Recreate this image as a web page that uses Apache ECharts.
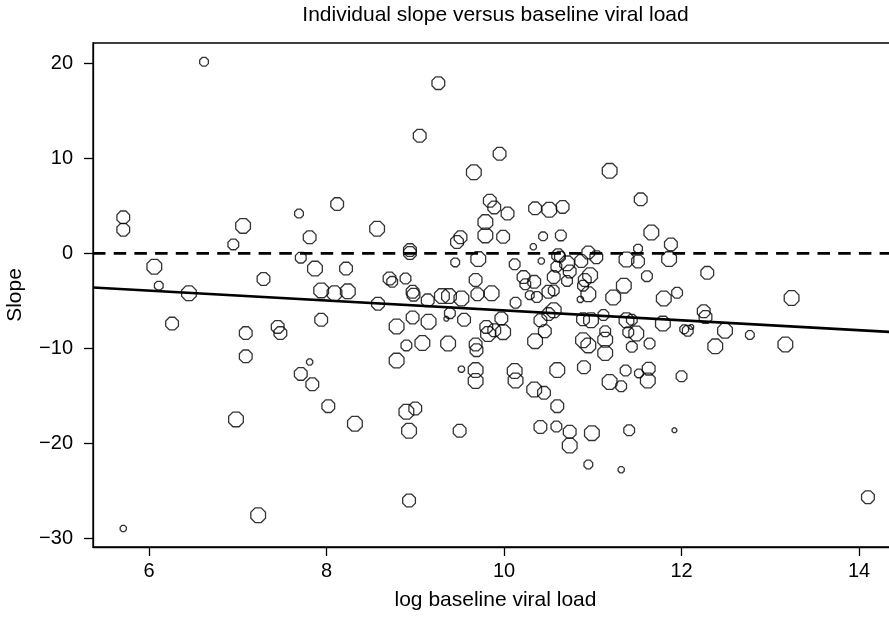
<!DOCTYPE html>
<html><head><meta charset="utf-8">
<script src="https://cdn.jsdelivr.net/npm/echarts@6/dist/echarts.min.js"></script>
<style>html,body{margin:0;padding:0;background:#fff}#c{width:889px;height:617px}</style>
</head><body><div id="c"></div>
<script>
// ---- data ----
const logViralLoad = [
 5.71,5.71,5.71,6.06,6.11,6.26,6.45,6.62,6.95,6.98,7.06,7.09,7.09,7.23,7.29,7.45,7.48,7.69,7.71,7.71,
 7.81,7.81,7.84,7.87,7.94,7.94,8.02,8.09,8.12,8.22,8.24,8.32,8.57,8.58,8.71,8.74,8.79,8.79,8.89,8.90,
 8.90,8.93,8.93,8.94,8.94,8.97,8.98,8.97,9.00,9.05,9.08,9.14,9.15,9.26,9.30,9.35,9.37,9.38,9.39,9.45,
 9.47,9.51,9.50,9.52,9.52,9.55,9.66,9.68,9.68,9.68,9.68,9.69,9.70,9.71,9.79,9.79,9.80,9.82,9.84,9.86,
 9.89,9.89,9.95,9.97,9.99,9.99,10.04,10.12,10.13,10.12,10.13,10.22,10.24,10.29,10.33,10.34,10.34,10.35,10.35,10.37,
 10.41,10.41,10.42,10.44,10.45,10.46,10.50,10.50,10.51,10.56,10.56,10.56,10.59,10.59,10.60,10.60,10.61,10.63,10.64,10.66,
 10.71,10.71,10.74,10.74,10.86,10.87,10.89,10.89,10.89,10.90,10.91,10.95,10.95,10.95,10.95,10.97,10.98,10.99,11.04,11.12,
 11.14,11.14,11.14,11.19,11.19,11.23,11.32,11.32,11.35,11.37,11.38,11.38,11.40,11.41,11.44,11.44,11.49,11.51,11.51,11.52,
 11.54,11.61,11.63,11.62,11.64,11.66,11.79,11.80,11.86,11.88,11.92,11.95,12.00,12.03,12.07,12.11,12.25,12.27,12.29,12.38,
 12.49,12.77,13.17,13.24,14.10,10.74
];
const individualSlope = [
 3.8,2.5,-29.0,-1.4,-3.4,-7.4,-4.2,20.2,0.95,-17.5,2.9,-8.4,-10.85,-27.6,-2.7,-7.75,-8.4,4.2,-0.45,-12.7,
 1.7,-11.45,-13.8,-1.6,-3.9,-7.0,-16.1,-4.2,5.2,-1.6,-4.0,-17.95,2.6,-5.3,-2.65,-3.0,-7.7,-11.3,-2.65,-9.7,
 -16.7,-18.7,-26.05,0.35,0.05,-4.05,-4.35,-6.75,-16.35,12.4,-9.45,-4.95,-7.2,17.95,-4.5,-6.9,-9.5,-4.5,-6.3,-0.95,
 1.2,1.7,-18.7,-4.75,-12.2,-7.0,8.55,-2.8,-9.6,-12.3,-13.45,-10.2,-4.3,-0.6,3.3,1.9,-7.75,-8.5,5.55,-4.2,
 4.85,-8.1,10.5,-6.85,1.75,-8.3,4.2,-1.15,-5.2,-12.4,-13.4,-2.5,-3.25,-4.4,0.7,-3.0,-14.35,4.75,-9.25,-4.6,
 -7.05,-18.3,-0.8,1.8,-14.7,-8.2,-4.05,-6.4,4.6,-2.5,-6.0,-3.9,-1.4,-18.25,-12.3,-16.1,-0.2,-0.35,1.9,4.9,
 -1.05,-2.9,-18.8,-20.25,-4.85,-0.8,-3.4,-6.95,-9.15,-12.0,-2.8,0.1,-4.3,-9.7,-22.25,-2.3,-7.05,-18.95,-0.4,-6.5,
 -8.2,-9.1,-10.5,8.7,-13.55,-4.65,-14.0,-22.8,-3.4,-12.35,-0.65,-7.05,-8.3,-18.65,-7.0,-9.85,-8.45,-0.85,0.5,-12.65,
 5.7,-2.4,-12.15,-13.4,-9.5,2.2,-7.4,-4.75,-0.6,0.95,-18.65,-4.15,-12.95,-8.0,-8.15,-7.75,-6.1,-6.7,-2.05,-9.8,
 -8.15,-8.6,-9.6,-4.7,-25.7,-1.9
];
// relative weight of each subject (drives circle size)
const weight = [
 5,5,2,6,3,5,6,3,4,6,6,5,5,6,5,5,5,3,4,5,
 5,2,5,6,6,5,5,6,5,5,6,6,6,5,5,4,6,6,4,4,
 6,6,5,5,5,5,5,5,5,5,6,5,6,5,6,1,6,6,4,3,
 5,5,5,6,2,5,6,5,5,6,6,5,5,6,6,6,5,6,5,6,
 5,5,5,5,5,6,5,4,4,6,6,5,4,3,2,5,6,5,6,4,
 5,5,2,3,5,5,5,5,6,5,6,4,4,4,6,5,5,4,4,5,
 6,4,5,6,2,5,4,5,6,5,5,5,6,6,3,6,6,6,5,4,
 4,6,6,6,6,6,4,2,6,4,6,6,4,4,4,4,6,5,3,3,
 5,4,5,6,4,6,6,6,6,5,1,4,4,3,4,1,5,5,5,6,
 6,3,6,6,5,5
];
const xTicks = [6, 8, 10, 12, 14];
const yTicks = [-30, -20, -10, 0, 10, 20];
const fitIntercept = -0.79;   // fitted regression line
const fitSlope = -0.522;
const referenceLevel = 0;     // dashed reference line
const titleText = 'Individual slope versus baseline viral load';
const xName = 'log baseline viral load';
const yName = 'Slope';

// ---- presentation ----
const X_MIN = 5.369, X_MAX = 14.439, Y_MIN = -30.95, Y_MAX = 22.18;
const FONT = '"Liberation Sans", Arial, Helvetica, sans-serif';
const DIAM = [0, 6, 7.5, 10, 12, 14, 16];
const LW = 1.3;
const OCT = 'path://M0.383,-0.924L0.924,-0.383L0.924,0.383L0.383,0.924L-0.383,0.924L-0.924,0.383L-0.924,-0.383L-0.383,-0.924Z';
const points = logViralLoad.map((x, i) => [x, individualSlope[i], weight[i]]);
const fit = x => fitIntercept + fitSlope * x;
const minus = v => String(v).replace('-', '\u2212');

const chart = echarts.init(document.getElementById('c'), null, {renderer: 'canvas'});
chart.setOption({
  animation: false,
  backgroundColor: '#fff',
  textStyle: {fontFamily: FONT, color: '#000'},
  graphic: [{
    type: 'text', x: 495.5, y: 15,
    style: {text: titleText, fill: '#000', font: '21px ' + FONT, textAlign: 'center', textVerticalAlign: 'middle'}
  }],
  grid: {left: 93, right: -9, top: 43, bottom: 70, show: true, borderColor: '#000', borderWidth: LW,
         containLabel: false, outerBoundsMode: 'none'},
  xAxis: {
    type: 'value', min: X_MIN, max: X_MAX,
    name: xName, nameLocation: 'middle', nameGap: 43,
    nameTextStyle: {fontSize: 21, color: '#000', fontFamily: FONT},
    axisLine: {show: true, onZero: false, lineStyle: {color: '#000', width: LW}},
    axisTick: {show: true, length: 9, lineStyle: {color: '#000', width: LW}, customValues: xTicks},
    axisLabel: {fontSize: 20, color: '#000', margin: 14, customValues: xTicks, formatter: minus, fontFamily: FONT},
    splitLine: {show: false}
  },
  yAxis: {
    type: 'value', min: Y_MIN, max: Y_MAX,
    name: yName, nameLocation: 'middle', nameGap: 67, nameRotate: 90,
    nameTextStyle: {fontSize: 21, color: '#000', fontFamily: FONT},
    axisLine: {show: true, onZero: false, lineStyle: {color: '#000', width: LW}},
    axisTick: {show: true, length: 9, lineStyle: {color: '#000', width: LW}, customValues: yTicks},
    axisLabel: {fontSize: 20, color: '#000', margin: 20, customValues: yTicks, formatter: minus, fontFamily: FONT},
    splitLine: {show: false}
  },
  series: [
    {
      type: 'scatter', data: points, symbol: OCT,
      symbolSize: d => DIAM[d[2]] - LW,
      itemStyle: {color: 'rgba(0,0,0,0)', borderColor: '#000', borderWidth: LW},
      emphasis: {disabled: true}, z: 2
    },
    {
      type: 'line', data: [[X_MIN, referenceLevel], [X_MAX, referenceLevel]],
      symbol: 'none', lineStyle: {color: '#000', width: 2.6, type: [12.5, 8.2]}, z: 3, silent: true
    },
    {
      type: 'line', data: [[X_MIN, fit(X_MIN)], [X_MAX, fit(X_MAX)]],
      symbol: 'none', lineStyle: {color: '#000', width: 2.6}, z: 3, silent: true
    }
  ]
});
</script></body></html>
